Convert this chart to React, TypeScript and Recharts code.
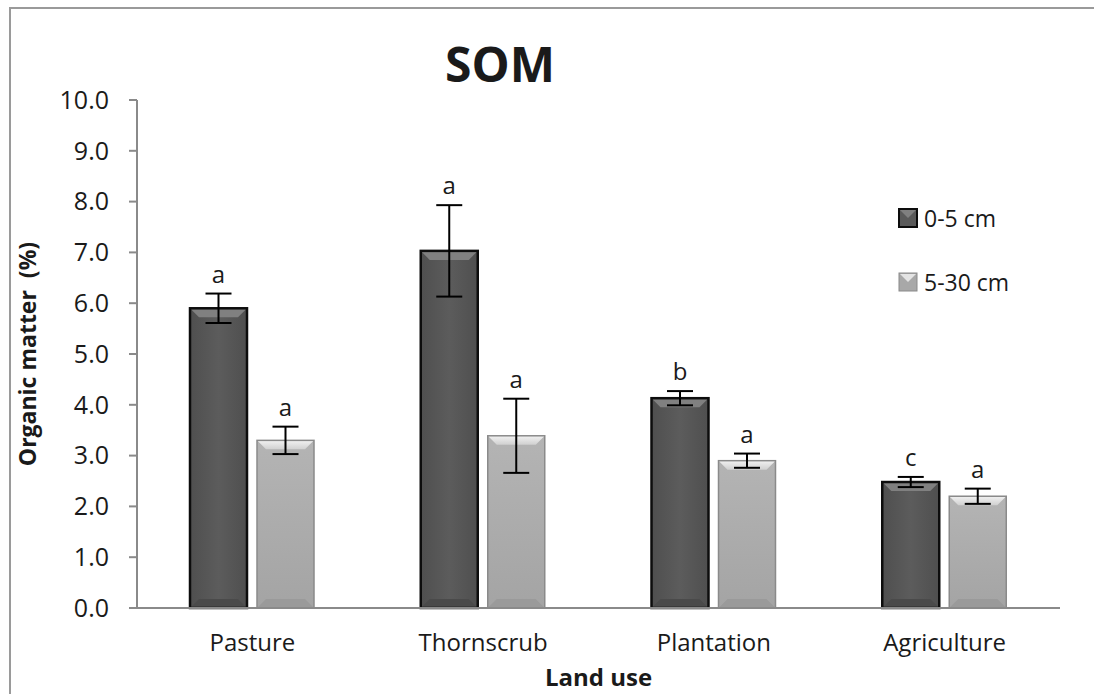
import React from 'react';
import { BarChart, Bar, XAxis, YAxis, ErrorBar, LabelList } from 'recharts';

const categories = ['Pasture', 'Thornscrub', 'Plantation', 'Agriculture'];
const shallowValues = [5.9, 7.03, 4.13, 2.48];
const shallowErrors = [0.29, 0.9, 0.14, 0.1];
const shallowLetters = ['a', 'a', 'b', 'c'];
const deepValues = [3.3, 3.39, 2.9, 2.2];
const deepErrors = [0.27, 0.73, 0.14, 0.15];
const deepLetters = ['a', 'a', 'a', 'a'];
const yTicks = [0, 1, 2, 3, 4, 5, 6, 7, 8, 9, 10];
const boundaryTicks = [0, 1, 2, 3, 4];
const seriesNames = ['0-5 cm', '5-30 cm'];

const data = categories.map((name, i) => ({
  name,
  idx: i + 0.5,
  shallow: shallowValues[i],
  shallowErr: shallowErrors[i],
  deep: deepValues[i],
  deepErr: deepErrors[i],
}));

const FONT = "'Open Sans', 'Noto Sans', sans-serif";

const DarkBar = (props: any) => {
  const { x, y, width, height } = props;
  if (!height || height <= 0) return null;
  const b = Math.min(9, height / 2);
  return (
    <g>
      <rect x={x} y={y} width={width} height={height} fill="url(#darkGrad)" />
      <polygon points={`${x},${y} ${x + width},${y} ${x + width - b},${y + b} ${x + b},${y + b}`} fill="#808080" />
      <polygon points={`${x},${y + height} ${x + width},${y + height} ${x + width - b},${y + height - b} ${x + b},${y + height - b}`} fill="#4a4a4a" />
      <rect x={x} y={y} width={width} height={height} fill="none" stroke="#0d0d0d" strokeWidth={2.5} />
    </g>
  );
};

const LightBar = (props: any) => {
  const { x, y, width, height } = props;
  if (!height || height <= 0) return null;
  const b = Math.min(9, height / 2);
  return (
    <g>
      <rect x={x} y={y} width={width} height={height} fill="url(#lightGrad)" />
      <polygon points={`${x},${y} ${x + width},${y} ${x + width - b},${y + b} ${x + b},${y + b}`} fill="url(#bevelGrad)" />
      <polygon points={`${x},${y + height} ${x + width},${y + height} ${x + width - b},${y + height - b} ${x + b},${y + height - b}`} fill="#9a9a9a" />
      <rect x={x} y={y} width={width} height={height} fill="none" stroke="#8a8a8a" strokeWidth={1.5} />
    </g>
  );
};

const makeLetterLabel = (values: number[], errors: number[], letters: string[]) => (props: any) => {
  const { x, y, width, height, index } = props;
  const v = values[index];
  const e = errors[index];
  const pxPerUnit = height / v;
  const errTop = y - e * pxPerUnit;
  return (
    <text x={x + width / 2} y={errTop - 11} textAnchor="middle" fontFamily={FONT} fontSize={24} fill="#1a1a1a">
      {letters[index]}
    </text>
  );
};

const LegendBox = () => (
  <div style={{ position: 'absolute', left: 898, top: 204, fontFamily: FONT, fontSize: 23, color: '#1a1a1a' }}>
    {seriesNames.map((n, i) => (
      <div key={n} style={{ display: 'flex', alignItems: 'center', height: 28, marginBottom: i === 0 ? 36 : 0 }}>
        <svg width={20} height={20} style={{ marginRight: 6 }}>
          {i === 0 ? (
            <g>
              <rect x={1} y={1} width={18} height={18} fill="#5a5a5a" stroke="#0d0d0d" strokeWidth={2} />
              <polygon points="2,2 18,2 10,10" fill="#808080" />
            </g>
          ) : (
            <g>
              <rect x={1} y={1} width={18} height={18} fill="#a8a8a8" stroke="#8a8a8a" strokeWidth={1} />
              <polygon points="2,2 18,2 10,10" fill="#e4e4e4" />
            </g>
          )}
        </svg>
        <span>{n}</span>
      </div>
    ))}
  </div>
);

export default function App() {
  return (
    <div style={{ position: 'absolute', left: 0, top: 0, width: 1094, height: 694, background: '#fff', overflow: 'hidden' }}>
      <div style={{ position: 'absolute', left: 9, top: 7, width: 1085, height: 2, background: '#9a9a9a' }} />
      <div style={{ position: 'absolute', left: 9, top: 7, width: 2, height: 687, background: '#9a9a9a' }} />
      <div style={{ position: 'absolute', left: 0, width: 1000, top: 34, textAlign: 'center', fontFamily: FONT, fontWeight: 700, fontSize: 48, color: '#1a1a1a', lineHeight: '60px' }}>
        SOM
      </div>
      <BarChart
        width={1094}
        height={694}
        data={data}
        margin={{ top: 100, right: 34, bottom: 0, left: 0 }}
        barSize={57}
        barGap={10}
        style={{ position: 'absolute', left: 0, top: 0 }}
      >
        <defs>
          <linearGradient id="darkGrad" x1="0" y1="0" x2="1" y2="0">
            <stop offset="0" stopColor="#4f4f4f" />
            <stop offset="0.5" stopColor="#5c5c5c" />
            <stop offset="1" stopColor="#4f4f4f" />
          </linearGradient>
          <linearGradient id="lightGrad" x1="0" y1="0" x2="0" y2="1">
            <stop offset="0" stopColor="#b4b4b4" />
            <stop offset="1" stopColor="#a4a4a4" />
          </linearGradient>
          <linearGradient id="bevelGrad" x1="0" y1="0" x2="0" y2="1">
            <stop offset="0" stopColor="#f2f2f2" />
            <stop offset="1" stopColor="#d0d0d0" />
          </linearGradient>
        </defs>
        <XAxis
          xAxisId="bounds"
          type="number"
          dataKey="idx"
          domain={[0, 4]}
          ticks={boundaryTicks}
          height={0}
          axisLine={false}
          tickLine={{ stroke: '#8a8a8a', strokeWidth: 2 }}
          tickSize={8}
          tickFormatter={() => ''}
        />
        <XAxis
          xAxisId="cat"
          dataKey="name"
          height={86}
          axisLine={{ stroke: '#8a8a8a', strokeWidth: 2 }}
          tickLine={false}
          tickSize={0}
          tickMargin={26}
          tick={{ fontFamily: FONT, fontSize: 24, fill: '#1a1a1a' }}
          label={{ value: 'Land use', position: 'insideBottom', offset: 8, style: { fontFamily: FONT, fontSize: 24, fontWeight: 700, fill: '#1a1a1a' } }}
        />
        <YAxis
          width={137}
          domain={[0, 10]}
          ticks={yTicks}
          interval={0}
          tickFormatter={(v: number) => v.toFixed(1)}
          axisLine={{ stroke: '#8a8a8a', strokeWidth: 2 }}
          tickLine={{ stroke: '#8a8a8a', strokeWidth: 2 }}
          tickSize={8}
          tickMargin={20}
          tick={{ fontFamily: FONT, fontSize: 25, fill: '#1a1a1a' }}
          label={{ value: 'Organic matter \u00a0(%)', angle: -90, position: 'insideLeft', offset: 28, style: { fontFamily: FONT, fontSize: 23, fontWeight: 700, fill: '#1a1a1a', textAnchor: 'middle' } }}
        />
        <Bar xAxisId="cat" dataKey="shallow" name={seriesNames[0]} shape={<DarkBar />} isAnimationActive={false}>
          <ErrorBar dataKey="shallowErr" width={13} stroke="#000" strokeWidth={2} direction="y" />
          <LabelList dataKey="shallow" content={makeLetterLabel(shallowValues, shallowErrors, shallowLetters)} />
        </Bar>
        <Bar xAxisId="cat" dataKey="deep" name={seriesNames[1]} shape={<LightBar />} isAnimationActive={false}>
          <ErrorBar dataKey="deepErr" width={13} stroke="#000" strokeWidth={2} direction="y" />
          <LabelList dataKey="deep" content={makeLetterLabel(deepValues, deepErrors, deepLetters)} />
        </Bar>
      </BarChart>
      <LegendBox />
    </div>
  );
}
